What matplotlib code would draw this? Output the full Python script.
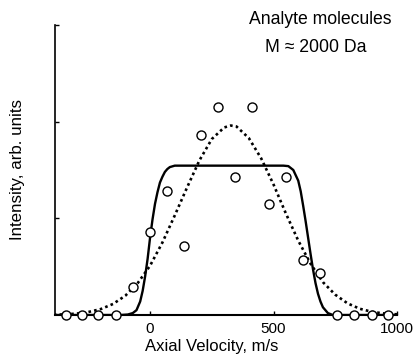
import matplotlib.pyplot as plt

plt.rcParams['font.family'] = ['Liberation Sans', 'DejaVu Sans']
plt.rcParams['font.size'] = 11

# measured points (circles)
pts_x = [-341, -275, -209, -138, -69, -1, 67, 139, 205, 274, 344, 414,
         483, 550, 620, 688, 756, 826, 897, 964]
pts_y = [0, 0, 0, 0, 0.29, 0.855, 1.28, 0.71, 1.865, 2.15, 1.43, 2.15,
         1.145, 1.43, 0.57, 0.43, 0, 0, 0, 0]

# solid fit curve
solid_x = [-390, -120, -90, -70, -55, -40, -30, -20, -10, 0, 10, 20, 30,
           40, 50, 60, 70, 80, 100, 120, 540, 560, 580, 600, 610, 620, 630,
           640, 650, 660, 670, 680, 690, 700, 720, 740, 1000]
solid_y = [0, 0, 0.005, 0.02, 0.05, 0.14, 0.25, 0.4, 0.58, 0.8, 0.99, 1.15,
           1.27, 1.37, 1.43, 1.48, 1.51, 1.53, 1.545, 1.545, 1.545, 1.54,
           1.5, 1.39, 1.28, 1.13, 0.97, 0.8, 0.63, 0.47, 0.33, 0.22, 0.14,
           0.08, 0.02, 0.0, 0.0]

# dotted fit curve
dot_x = [-390, -350, -300, -250, -200, -150, -100, -50, 0, 50, 100, 150,
         200, 250, 300, 327, 350, 400, 450, 500, 550, 600, 650, 700, 750,
         800, 850, 900, 950, 1000]
dot_y = [0.003, 0.006, 0.014, 0.031, 0.061, 0.114, 0.20, 0.33, 0.51, 0.75,
         1.03, 1.32, 1.60, 1.82, 1.94, 1.96, 1.95, 1.83, 1.62, 1.35, 1.05,
         0.77, 0.53, 0.34, 0.21, 0.12, 0.064, 0.032, 0.015, 0.007]

x_ticks = [0, 500, 1000]
y_ticks = [1, 2, 3]

fig = plt.figure(figsize=(4.14, 3.56), dpi=100)
ax = fig.add_axes([55 / 414, 41 / 356, 342 / 414, 290 / 356])

ax.plot(solid_x, solid_y, color='black', linewidth=1.7, solid_joinstyle='round')
ax.plot(dot_x, dot_y, color='black', linewidth=1.9, linestyle=(0, (1, 1.2)))
ax.plot(pts_x, pts_y, linestyle='None', marker='o', markersize=6.5,
        markerfacecolor='white', markeredgecolor='black', markeredgewidth=1.0,
        clip_on=False, zorder=5)

ax.set_xlim(-385, 1000)
ax.set_ylim(0, 3)
ax.spines['top'].set_visible(False)
ax.spines['right'].set_visible(False)
ax.spines['left'].set_linewidth(1.2)
ax.spines['bottom'].set_linewidth(1.5)

ax.set_xticks(x_ticks)
ax.set_yticks(y_ticks)
ax.set_yticklabels([])
ax.tick_params(direction='in', length=3, width=1)
ax.tick_params(axis='x', pad=5)

fig.text(212 / 414, 1 - 347 / 356, 'Axial Velocity, m/s', ha='center', va='center', fontsize=12)
fig.text(18 / 414, 1 - 170 / 356, 'Intensity, arb. units', ha='center', va='center',
         rotation=90, fontsize=12.2)
fig.text(320 / 414, 1 - 20 / 356, 'Analyte molecules', ha='center', va='center', fontsize=12.7)
fig.text(316 / 414, 1 - 48 / 356, 'M \u2248 2000 Da', ha='center', va='center', fontsize=12.7)

fig.savefig('out.png', dpi=100)
